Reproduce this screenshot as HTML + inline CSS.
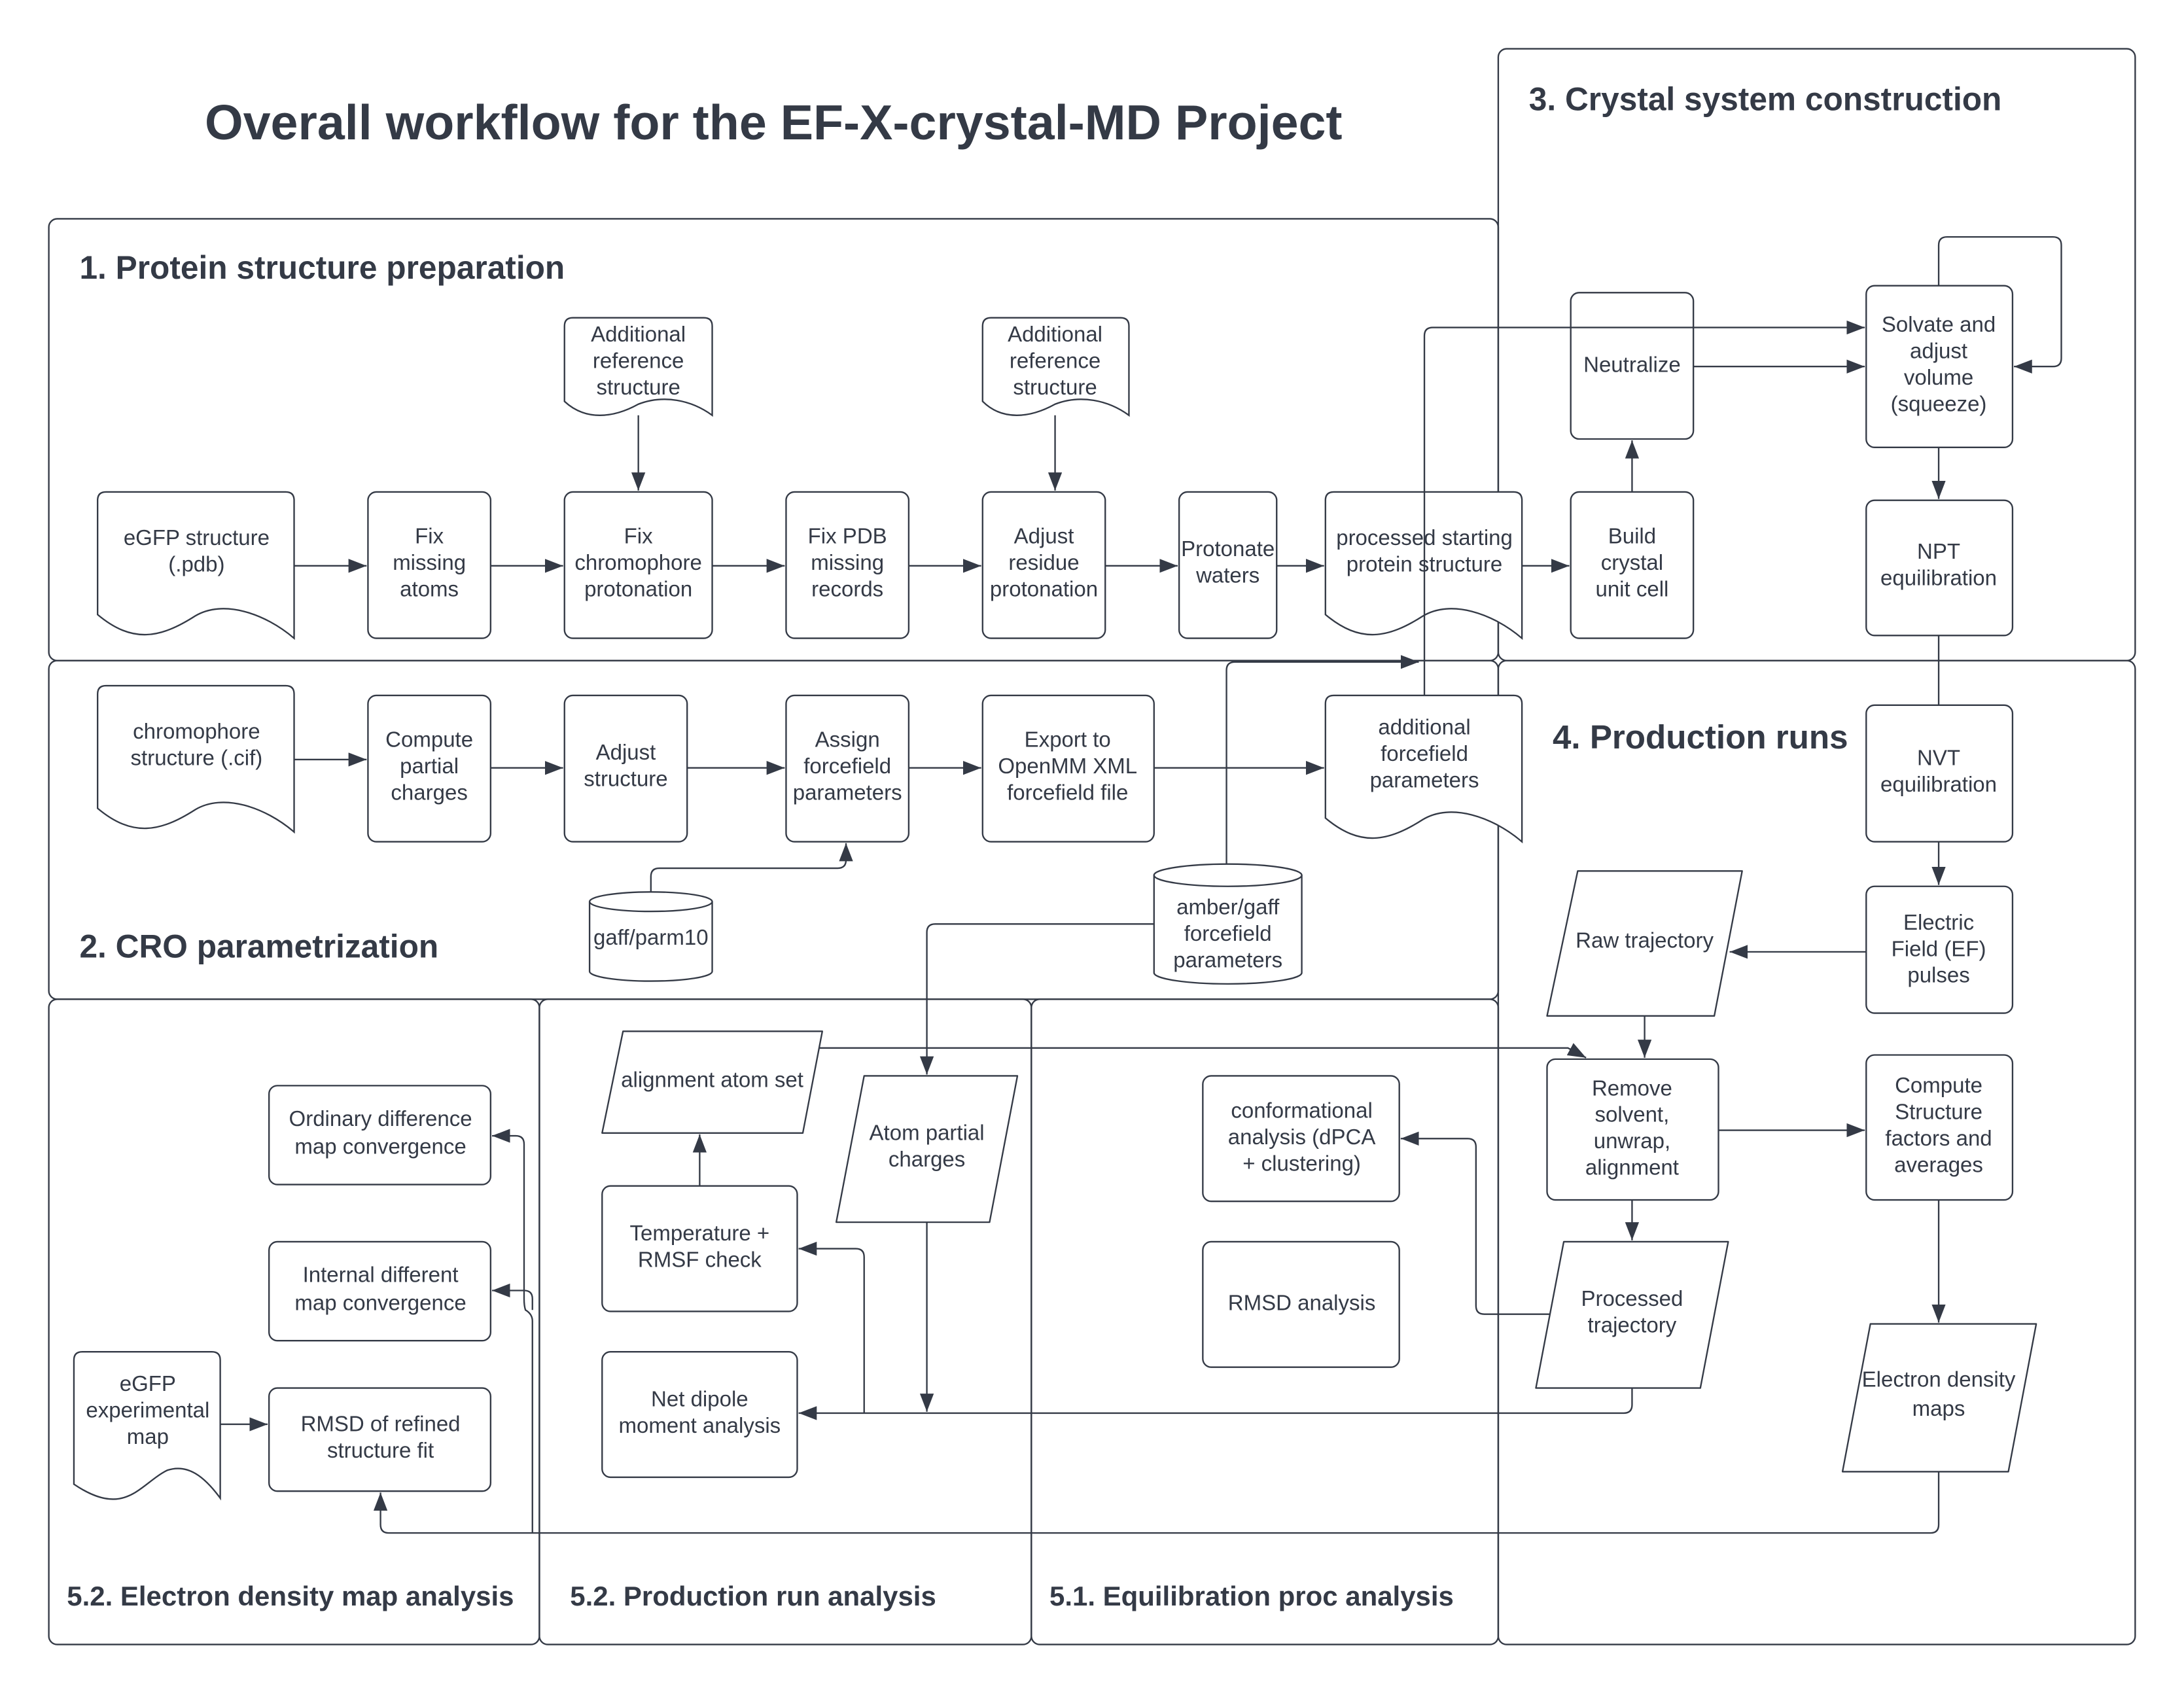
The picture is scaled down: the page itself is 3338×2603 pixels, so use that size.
<!DOCTYPE html>
<html><head><meta charset="utf-8"><style>
html,body{margin:0;padding:0;background:#fff}
svg{display:block}
text{font-family:"Liberation Sans",sans-serif;fill:#343a46}
.n{font-size:15.5px;text-anchor:middle}
.h{font-size:23.3px;font-weight:bold}
.h5{font-size:19.7px;font-weight:bold}
.s{fill:none;stroke:#343a46;stroke-width:1.1}
.b{fill:#fff;stroke:#343a46;stroke-width:1.1}
</style></head><body>
<svg width="3338" height="2603" viewBox="0 0 1567 1222" xmlns="http://www.w3.org/2000/svg">
<defs><marker id="a" markerWidth="14" markerHeight="10" refX="13" refY="5" orient="auto" markerUnits="userSpaceOnUse"><path d="M0,0 L13,5 L0,10 z" fill="#343a46"/></marker></defs>
<rect width="1567" height="1222" fill="#fff"/>
<g class="s">
<rect x="35" y="157" width="1040" height="317" rx="6"/>
<rect x="1075" y="35" width="457" height="439" rx="6"/>
<rect x="35" y="474" width="1040" height="243" rx="6"/>
<rect x="1075" y="474" width="457" height="706" rx="6"/>
<rect x="35" y="717" width="352" height="463" rx="6"/>
<rect x="387" y="717" width="353" height="463" rx="6"/>
<rect x="740" y="717" width="335" height="463" rx="6"/>
</g>
<text x="555" y="100" style="font-size:35.4px;font-weight:bold;text-anchor:middle">Overall workflow for the EF-X-crystal-MD Project</text>
<text class="h" x="57" y="200">1. Protein structure preparation</text>
<text class="h" x="1097" y="79">3. Crystal system construction</text>
<text class="h" x="1114" y="537" style="font-size:24px">4. Production runs</text>
<text class="h" x="57" y="687">2. CRO parametrization</text>
<text class="h5" x="48" y="1152">5.2. Electron density map analysis</text>
<text class="h5" x="409" y="1152">5.2. Production run analysis</text>
<text class="h5" x="753" y="1152">5.1. Equilibration proc analysis</text>

<g class="s" marker-end="url(#a)">
<path d="M211,406 H263"/><path d="M352,406 H404"/><path d="M511,406 H563"/><path d="M652,406 H704"/><path d="M793,406 H845"/><path d="M916,406 H950"/><path d="M1092,406 H1126"/>
<path d="M458,298 V352"/><path d="M757,298 V352"/>
<path d="M1171,353 V316"/>
<path d="M1215,263 H1338"/>
<path d="M1391,205 V176 Q1391,170 1397,170 H1473 Q1479,170 1479,176 V257 Q1479,263 1473,263 H1445"/>
<path d="M1391,321 V358"/>
<path d="M1391,604 V635"/>
<path d="M1339,683 H1241"/>
<path d="M1180,729 V759"/>
<path d="M1233,811 H1338"/>
<path d="M1171,861 V890"/>
<path d="M1391,861 V949"/>
<path d="M1391,1056 V1094 Q1391,1100 1385,1100 H279 Q273,1100 273,1094 V1071"/>
<path d="M382,1100 V948 Q382,943 377,940 Q376,937 376,932 V821 Q376,815 370,815 H353"/>
<path d="M382,940 V932 Q382,926 376,926 H353"/>
<path d="M158,1022 H192"/>
<path d="M1171,996 V1008 Q1171,1014 1165,1014 H573"/>
<path d="M620,1014 V902 Q620,896 614,896 H573"/>
<path d="M828,663 H671 Q665,663 665,669 V771"/>
<path d="M665,877 V1013"/>
<path d="M1115,943 H1065 Q1059,943 1059,937 V823 Q1059,817 1053,817 H1005"/>
<path d="M502,851 V814"/>
<path d="M588,752 H1125 L1138,759"/>
<path d="M467,640 V629 Q467,623 473,623 H601 Q607,623 607,617 V605"/>
<path d="M880,620 V481 Q880,475 886,475 H1018"/>
<path d="M211,545 H263"/><path d="M352,551 H404"/><path d="M493,551 H563"/><path d="M652,551 H704"/><path d="M828,551 H950"/>
</g>
<path class="s" d="M1391,456 V506"/>

<g class="b">
<path d="M70,359 Q70,353 76,353 H205 Q211,353 211,359 V458 C190,440 160,430 140,442 C115,458 95,462 70,441 Z"/>
<path d="M951,359 Q951,353 957,353 H1086 Q1092,353 1092,359 V458 C1071,440 1041,430 1021,442 C996,458 976,462 951,441 Z"/>
<path d="M70,498 Q70,492 76,492 H205 Q211,492 211,498 V597 C190,579 160,569 140,581 C115,597 95,601 70,580 Z"/>
<path d="M951,505 Q951,499 957,499 H1086 Q1092,499 1092,505 V604 C1071,586 1041,576 1021,588 C996,604 976,608 951,587 Z"/>
<path d="M405,234 Q405,228 411,228 H505 Q511,228 511,234 V298 C496,287 476,283 458,290 C440,300 420,302 405,288 Z"/>
<path d="M705,234 Q705,228 711,228 H804 Q810,228 810,234 V298 C795,287 775,283 757,290 C739,300 719,302 705,288 Z"/>
<path d="M53,976 Q53,970 59,970 H152 Q158,970 158,976 V1075 C147,1060 135,1050 120,1055 C100,1065 90,1090 53,1065 Z"/>
</g>
<g class="b">
<rect x="264" y="353" width="88" height="105" rx="6"/>
<rect x="405" y="353" width="106" height="105" rx="6"/>
<rect x="564" y="353" width="88" height="105" rx="6"/>
<rect x="705" y="353" width="88" height="105" rx="6"/>
<rect x="846" y="353" width="70" height="105" rx="6"/>
<rect x="1127" y="353" width="88" height="105" rx="6"/>
<rect x="1127" y="210" width="88" height="105" rx="6"/>
<rect x="1339" y="205" width="105" height="116" rx="6"/>
<rect x="1339" y="359" width="105" height="97" rx="6"/>
<rect x="1339" y="506" width="105" height="98" rx="6"/>
<rect x="1339" y="636" width="105" height="91" rx="6"/>
<rect x="1110" y="760" width="123" height="101" rx="6"/>
<rect x="1339" y="757" width="105" height="104" rx="6"/>
<rect x="264" y="499" width="88" height="105" rx="6"/>
<rect x="405" y="499" width="88" height="105" rx="6"/>
<rect x="564" y="499" width="88" height="105" rx="6"/>
<rect x="705" y="499" width="123" height="105" rx="6"/>
<rect x="193" y="779" width="159" height="71" rx="6"/>
<rect x="193" y="891" width="159" height="71" rx="6"/>
<rect x="193" y="996" width="159" height="74" rx="6"/>
<rect x="432" y="851" width="140" height="90" rx="6"/>
<rect x="432" y="970" width="140" height="90" rx="6"/>
<rect x="863" y="772" width="141" height="90" rx="6"/>
<rect x="863" y="891" width="141" height="90" rx="6"/>
<path d="M1132,625 H1250 L1230,729 H1110 Z" stroke-linejoin="round"/>
<path d="M1122,891 H1240 L1220,996 H1102 Z" stroke-linejoin="round"/>
<path d="M1342,950 H1461 L1441,1056 H1322 Z" stroke-linejoin="round"/>
<path d="M447,740 H590 L576,813 H432 Z" stroke-linejoin="round"/>
<path d="M620,772 H730 L710,877 H600 Z" stroke-linejoin="round"/>
<path d="M423,647 V697 A44,7 0 0 0 511,697 V647"/>
<ellipse cx="467" cy="647" rx="44" ry="7"/>
<path d="M828,628 V698 A53,8 0 0 0 934,698 V628"/>
<ellipse cx="881" cy="628" rx="53" ry="8"/>
</g>
<!-- connector drawn over boxes/docs -->
<path class="s" marker-end="url(#a)" d="M1022,499 V241 Q1022,235 1028,235 H1338"/>

<g class="n">
<text x="141" y="391">eGFP structure</text><text x="141" y="410">(.pdb)</text>
<text x="308" y="390">Fix</text><text x="308" y="409">missing</text><text x="308" y="428">atoms</text>
<text x="458" y="390">Fix</text><text x="458" y="409">chromophore</text><text x="458" y="428">protonation</text>
<text x="608" y="390">Fix PDB</text><text x="608" y="409">missing</text><text x="608" y="428">records</text>
<text x="749" y="390">Adjust</text><text x="749" y="409">residue</text><text x="749" y="428">protonation</text>
<text x="881" y="399">Protonate</text><text x="881" y="418">waters</text>
<text x="1022" y="391">processed starting</text><text x="1022" y="410">protein structure</text>
<text x="1171" y="390">Build</text><text x="1171" y="409">crystal</text><text x="1171" y="428">unit cell</text>
<text x="458" y="245">Additional</text><text x="458" y="264">reference</text><text x="458" y="283">structure</text>
<text x="757" y="245">Additional</text><text x="757" y="264">reference</text><text x="757" y="283">structure</text>
<text x="1171" y="267">Neutralize</text>
<text x="1391" y="238">Solvate and</text><text x="1391" y="257">adjust</text><text x="1391" y="276">volume</text><text x="1391" y="295">(squeeze)</text>
<text x="1391" y="401">NPT</text><text x="1391" y="420">equilibration</text>
<text x="1391" y="549">NVT</text><text x="1391" y="568">equilibration</text>
<text x="1391" y="667">Electric</text><text x="1391" y="686">Field (EF)</text><text x="1391" y="705">pulses</text>
<text x="1180" y="680">Raw trajectory</text>
<text x="1171" y="786">Remove</text><text x="1171" y="805">solvent,</text><text x="1171" y="824">unwrap,</text><text x="1171" y="843">alignment</text>
<text x="1391" y="784">Compute</text><text x="1391" y="803">Structure</text><text x="1391" y="822">factors and</text><text x="1391" y="841">averages</text>
<text x="1171" y="937">Processed</text><text x="1171" y="956">trajectory</text>
<text x="1391" y="995">Electron density</text><text x="1391" y="1016">maps</text>
<text x="141" y="530">chromophore</text><text x="141" y="549">structure (.cif)</text>
<text x="308" y="536">Compute</text><text x="308" y="555">partial</text><text x="308" y="574">charges</text>
<text x="449" y="545">Adjust</text><text x="449" y="564">structure</text>
<text x="608" y="536">Assign</text><text x="608" y="555">forcefield</text><text x="608" y="574">parameters</text>
<text x="766" y="536">Export to</text><text x="766" y="555">OpenMM XML</text><text x="766" y="574">forcefield file</text>
<text x="1022" y="527">additional</text><text x="1022" y="546">forcefield</text><text x="1022" y="565">parameters</text>
<text x="467" y="678">gaff/parm10</text>
<text x="881" y="656">amber/gaff</text><text x="881" y="675">forcefield</text><text x="881" y="694">parameters</text>
<text x="273" y="808">Ordinary difference</text><text x="273" y="828">map convergence</text>
<text x="273" y="920">Internal different</text><text x="273" y="940">map convergence</text>
<text x="273" y="1027">RMSD of refined</text><text x="273" y="1046">structure fit</text>
<text x="106" y="998">eGFP</text><text x="106" y="1017">experimental</text><text x="106" y="1036">map</text>
<text x="511" y="780">alignment atom set</text>
<text x="665" y="818">Atom partial</text><text x="665" y="837">charges</text>
<text x="502" y="890">Temperature +</text><text x="502" y="909">RMSF check</text>
<text x="502" y="1009">Net dipole</text><text x="502" y="1028">moment analysis</text>
<text x="934" y="802">conformational</text><text x="934" y="821">analysis (dPCA</text><text x="934" y="840">+ clustering)</text>
<text x="934" y="940">RMSD analysis</text>
</g>
</svg>
</body></html>
